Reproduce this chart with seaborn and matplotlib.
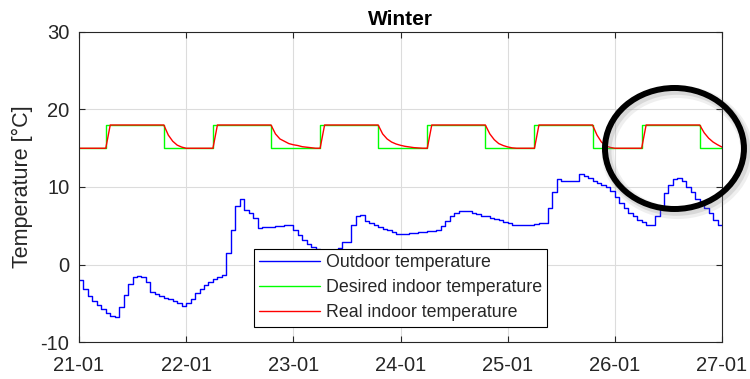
import pandas as pd
import matplotlib.pyplot as plt
import matplotlib.dates as mdates
from matplotlib.patches import Ellipse
import seaborn as sns

# hourly values, 21-01 00:00 to 27-01 00:00
outdoor = [
    -2.0, -3.1, -4.1, -4.7, -5.2, -5.8, -6.3, -6.65, -6.8, -5.5, -3.9, -2.5,
    -1.6, -1.45, -1.65, -2.3, -3.5, -3.8, -4.1, -4.3, -4.5, -4.7, -5.0, -5.3,
    -5.0, -4.4, -3.7, -3.2, -2.7, -2.2, -1.9, -1.6, -1.3, 1.45, 4.4, 7.5,
    8.5, 7.0, 6.6, 6.0, 4.75, 4.8, 4.85, 4.9, 4.95, 5.0, 5.05, 5.1,
    4.4, 3.8, 3.2, 2.6, 2.3, 2.0, 1.7, 1.5, 1.5, 1.8, 2.1, 2.9,
    2.9, 5.1, 6.2, 6.4, 5.6, 5.3, 5.1, 4.9, 4.6, 4.45, 4.2, 4.0,
    4.0, 4.0, 4.1, 4.1, 4.2, 4.2, 4.3, 4.3, 4.4, 5.0, 5.6, 6.2,
    6.7, 6.9, 6.9, 6.9, 6.6, 6.5, 6.3, 6.2, 6.0, 5.85, 5.7, 5.5,
    5.3, 5.15, 5.1, 5.1, 5.1, 5.15, 5.2, 5.3, 5.4, 7.25, 9.3, 11.0,
    10.8, 10.8, 10.8, 10.8, 11.7, 11.4, 11.1, 10.8, 10.55, 10.25, 9.95, 9.5,
    8.7, 7.9, 7.25, 6.6, 6.2, 5.8, 5.45, 5.05, 5.05, 6.25, 7.6, 9.2,
    10.25, 11.0, 11.1, 10.8, 10.0, 9.3, 8.4, 7.9, 7.25, 6.6, 5.8, 5.1,
    5.1,
]

desired = [
    15, 15, 15, 15, 15, 15, 18, 18, 18, 18, 18, 18, 18, 18, 18, 18, 18, 18, 18, 15, 15, 15, 15, 15,
    15, 15, 15, 15, 15, 15, 18, 18, 18, 18, 18, 18, 18, 18, 18, 18, 18, 18, 18, 15, 15, 15, 15, 15,
    15, 15, 15, 15, 15, 15, 18, 18, 18, 18, 18, 18, 18, 18, 18, 18, 18, 18, 18, 15, 15, 15, 15, 15,
    15, 15, 15, 15, 15, 15, 18, 18, 18, 18, 18, 18, 18, 18, 18, 18, 18, 18, 18, 15, 15, 15, 15, 15,
    15, 15, 15, 15, 15, 15, 18, 18, 18, 18, 18, 18, 18, 18, 18, 18, 18, 18, 18, 15, 15, 15, 15, 15,
    15, 15, 15, 15, 15, 15, 18, 18, 18, 18, 18, 18, 18, 18, 18, 18, 18, 18, 18, 15, 15, 15, 15, 15,
    15,
]

real = [
    15, 15, 15, 15, 15, 15, 15, 18, 18, 18, 18, 18, 18, 18, 18, 18, 18, 18, 18, 18, 16.7, 15.9, 15.4, 15.15,
    15, 15, 15, 15, 15, 15, 15, 18, 18, 18, 18, 18, 18, 18, 18, 18, 18, 18, 18, 18, 16.85, 16.2, 15.9, 15.6,
    15.45, 15.35, 15.2, 15.13, 15.05, 15, 15, 18, 18, 18, 18, 18, 18, 18, 18, 18, 18, 18, 18, 18, 16.85, 16.2, 15.8, 15.55,
    15.38, 15.25, 15.17, 15.08, 15.04, 15, 15, 18, 18, 18, 18, 18, 18, 18, 18, 18, 18, 18, 18, 18, 16.85, 16.1, 15.6, 15.35,
    15.17, 15.05, 15, 15, 15, 15, 15, 18, 18, 18, 18, 18, 18, 18, 18, 18, 18, 18, 18, 18, 16.7, 15.8, 15.3, 15.1,
    15, 15, 15, 15, 15, 15, 15, 18, 18, 18, 18, 18, 18, 18, 18, 18, 18, 18, 18, 18, 17.0, 16.3, 15.8, 15.45,
    15.15,
]

times = pd.date_range("2017-01-21", periods=len(outdoor), freq="h")
df = pd.DataFrame({"time": times, "outdoor": outdoor, "desired": desired, "real": real})

sns.set_style("ticks")
plt.rcParams["font.family"] = ["Liberation Sans", "DejaVu Sans"]
plt.rcParams["axes.unicode_minus"] = False
dark = "#262626"

fig = plt.figure(figsize=(7.5, 3.79), dpi=100)
ax = fig.add_axes([0.1053, 0.0976, 0.8574, 0.818])

sns.lineplot(data=df, x="time", y="outdoor", color="#0000ff", lw=1.0,
             drawstyle="steps-post", estimator=None, label="Outdoor temperature", ax=ax)
sns.lineplot(data=df, x="time", y="desired", color="#00ff00", lw=1.0,
             drawstyle="steps-post", estimator=None, label="Desired indoor temperature", ax=ax)
sns.lineplot(data=df, x="time", y="real", color="#ff0000", lw=1.0,
             estimator=None, label="Real indoor temperature", ax=ax)

ax.set_xlim(times[0], times[-1])
ax.set_ylim(-10, 30)
ax.set_yticks([-10, 0, 10, 20, 30])
ax.xaxis.set_major_locator(mdates.DayLocator())
ax.xaxis.set_major_formatter(mdates.DateFormatter("%d-%m"))

ax.grid(True, color="#dcdcdc", lw=0.8)
ax.set_axisbelow(True)
for s in ax.spines.values():
    s.set_color(dark)
    s.set_linewidth(0.8)
ax.tick_params(direction="in", length=4, width=0.8, color=dark, labelcolor=dark,
               labelsize=14.5, top=True, right=True)
ax.tick_params(axis="x", pad=10)
ax.tick_params(axis="y", pad=7)

ax.set_title("Winter", fontsize=15, fontweight="bold", color="black", pad=5)
ax.set_xlabel("")
ax.set_ylabel("Temperature [°C]", fontsize=15.5, color=dark)
ax.yaxis.set_label_coords(-0.071, 0.5)

leg = ax.legend(loc="lower center", bbox_to_anchor=(0.5, 0.05), fontsize=12.8,
                frameon=True, fancybox=False, framealpha=1, edgecolor="black",
                borderpad=0.3, labelspacing=0.45, handlelength=3.4, handletextpad=0.35,
                borderaxespad=0)
leg.get_frame().set_linewidth(0.8)
for t in leg.get_texts():
    t.set_color(dark)

# highlight circle with a soft drop shadow
for dx, dy, lw, a in [(0.004, -0.010, 9, 0.12), (0.003, -0.007, 6, 0.2)]:
    fig.add_artist(Ellipse((0.8993 + dx, 0.6082 + dy), 0.1853, 0.3193, fill=False,
                           edgecolor="gray", lw=lw, alpha=a, transform=fig.transFigure))
fig.add_artist(Ellipse((0.8993, 0.6082), 0.1853, 0.3193, fill=False,
                       edgecolor="black", lw=4.3, transform=fig.transFigure))

fig.savefig("out.png", dpi=100)
